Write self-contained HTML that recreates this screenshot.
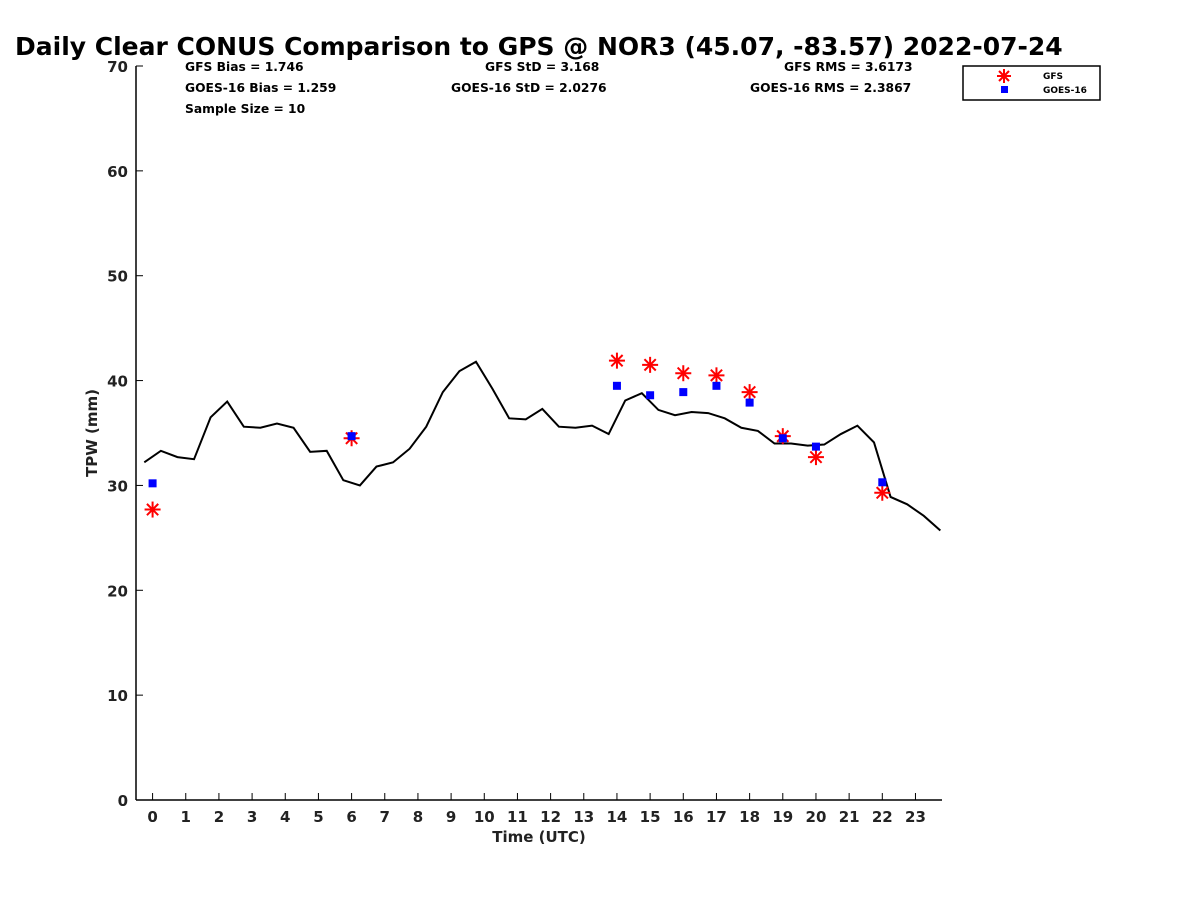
<!DOCTYPE html>
<html><head><meta charset="utf-8"><style>
body{margin:0;background:#fff;}
svg{font-family:"DejaVu Sans","Liberation Sans",sans-serif;font-weight:bold;}
</style></head><body>
<svg id="chart" width="1200" height="900">
<text x="15" y="55" font-size="25">Daily Clear CONUS Comparison to GPS @ NOR3 (45.07, -83.57) 2022-07-24</text>
<g font-size="12.3">
<text x="185" y="71">GFS Bias = 1.746</text>
<text x="185" y="92">GOES-16 Bias = 1.259</text>
<text x="185" y="113">Sample Size = 10</text>
<text x="485" y="71">GFS StD = 3.168</text>
<text x="451" y="92">GOES-16 StD = 2.0276</text>
<text x="784" y="71">GFS RMS = 3.6173</text>
<text x="750" y="92">GOES-16 RMS = 2.3867</text>
</g>
<g>
<rect x="963" y="66" width="137" height="34" fill="#fff" stroke="#000" stroke-width="1.5"/>
<g stroke="red" stroke-width="2">
<line x1="997" y1="76" x2="1011" y2="76"/><line x1="1004" y1="69" x2="1004" y2="83"/>
<line x1="999" y1="71" x2="1009" y2="81"/><line x1="999" y1="81" x2="1009" y2="71"/>
</g>
<text x="1043" y="79" font-size="9">GFS</text>
<rect x="1001" y="86" width="7" height="7" fill="#0000ff"/>
<text x="1043" y="93" font-size="9">GOES-16</text>
</g>
<g id="axes"></g>
<g id="marks"></g>
</svg>
<script>
const lineHours=[-0.25,0.25,0.75,1.25,1.75,2.25,2.75,3.25,3.75,4.25,4.75,5.25,5.75,6.25,6.75,7.25,7.75,8.25,8.75,9.25,9.75,10.25,10.75,11.25,11.75,12.25,12.75,13.25,13.75,14.25,14.75,15.25,15.75,16.25,16.75,17.25,17.75,18.25,18.75,19.25,19.75,20.25,20.75,21.25,21.75,22.25,22.75,23.25,23.75];
const gpsValues=[32.2,33.3,32.7,32.5,36.5,38.0,35.6,35.5,35.9,35.5,33.2,33.3,30.5,30.0,31.8,32.2,33.5,35.6,38.9,40.9,41.8,39.2,36.4,36.3,37.3,35.6,35.5,35.7,34.9,38.1,38.8,37.2,36.7,37.0,36.9,36.4,35.5,35.2,34.0,34.0,33.8,33.9,34.9,35.7,34.1,28.9,28.2,27.1,25.7];
const obsHours=[0,6,14,15,16,17,18,19,20,22];
const gfsValues=[27.7,34.5,41.9,41.5,40.7,40.5,38.9,34.7,32.7,29.3];
const goesValues=[30.2,34.7,39.5,38.6,38.9,39.5,37.9,34.5,33.7,30.3];
const xTicks=[0,1,2,3,4,5,6,7,8,9,10,11,12,13,14,15,16,17,18,19,20,21,22,23];
const yTicks=[0,10,20,30,40,50,60,70];

const NS="http://www.w3.org/2000/svg";
const X0=136,X1=942,Y0=800,Y1=66,xmin=-0.5,xmax=23.8,ymin=0,ymax=70;
const xs=v=>X0+(v-xmin)/(xmax-xmin)*(X1-X0);
const ys=v=>Y0-(v-ymin)/(ymax-ymin)*(Y0-Y1);
function mk(tag,attrs,parent){const e=document.createElementNS(NS,tag);for(const k in attrs)e.setAttribute(k,attrs[k]);parent.appendChild(e);return e;}
const axes=document.getElementById('axes'),marks=document.getElementById('marks');
let a=mk('line',{x1:X0,y1:Y0,x2:X1,y2:Y0,stroke:'#000','stroke-width':1.5},axes);


a=mk('line',{x1:X0,y1:Y0,x2:X0,y2:Y1,stroke:'#000','stroke-width':1.5},axes);


xTicks.forEach(t=>{
 const tk=mk('line',{x1:xs(t),y1:Y0,x2:xs(t),y2:Y0-7,stroke:'#000','stroke-width':1},axes);
 
 
 const l=mk('text',{x:xs(t),y:Y0+22,'font-size':15,'text-anchor':'middle',fill:'#222'},axes);
 l.textContent=t;
 
 
});
yTicks.forEach(t=>{
 const tk=mk('line',{x1:X0,y1:ys(t),x2:X0+7,y2:ys(t),stroke:'#000','stroke-width':1},axes);
 
 
 const l=mk('text',{x:X0-8,y:ys(t)+6,'font-size':15,'text-anchor':'end',fill:'#222'},axes);
 l.textContent=t;
 
 
});
let t=mk('text',{x:539,y:842,'font-size':15,'text-anchor':'middle',fill:'#222'},axes);
t.textContent='Time (UTC)';


t=mk('text',{x:0,y:0,'font-size':15,'text-anchor':'middle',fill:'#222',transform:'translate(97,433) rotate(-90)'},axes);
t.textContent='TPW (mm)';


const pl=mk('polyline',{points:lineHours.map((h,i)=>xs(h)+','+ys(gpsValues[i])).join(' '),fill:'none',stroke:'#000','stroke-width':2},marks);


obsHours.forEach((h,i)=>{
 const g=mk('g',{stroke:'red','stroke-width':2},marks);
 
 
 const cx=xs(h),cy=ys(gfsValues[i]),r=8;
 for(let k=0;k<4;k++){const an=k*Math.PI/4;mk('line',{x1:cx-r*Math.cos(an),y1:cy-r*Math.sin(an),x2:cx+r*Math.cos(an),y2:cy+r*Math.sin(an)},g);}
 const s=mk('rect',{x:xs(h)-4,y:ys(goesValues[i])-4,width:8,height:8,fill:'#0000ff'},marks);
 
 
});
</script>
</body></html>
